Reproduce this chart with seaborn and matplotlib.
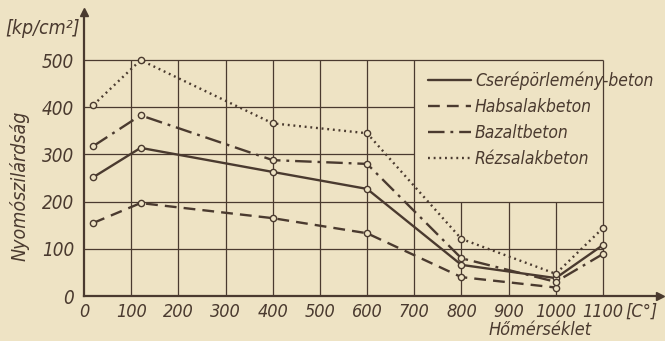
import numpy as np
import pandas as pd
import matplotlib
matplotlib.use('Agg')
import matplotlib.pyplot as plt
import seaborn as sns
from matplotlib.lines import Line2D

# adatok (leolvasva az ábráról)
homerseklet = [20, 120, 400, 600, 800, 1000, 1100]
cserep = [252, 314, 263, 227, 66, 38, 108]
habsalak = [155, 197, 165, 133, 40, 18]
bazalt = [318, 383, 288, 280, 80, 30, 89]
rezsalak = [405, 500, 366, 345, 121, 47, 144]

nevek = ['Cserépörlemény-beton', 'Habsalakbeton', 'Bazaltbeton', 'Rézsalakbeton']
x_ticks = [0, 100, 200, 300, 400, 500, 600, 700, 800, 900, 1000, 1100]
y_ticks = [0, 100, 200, 300, 400, 500]

sorok = []
for nev, ertekek in zip(nevek, [cserep, habsalak, bazalt, rezsalak]):
    for t, v in zip(homerseklet, ertekek):
        sorok.append({'Hőmérséklet': t, 'Nyomószilárdság': v, 'anyag': nev})
df = pd.DataFrame(sorok)

# stílus
papir = '#eee3c4'
tinta = '#4a3a2f'
sns.set_style('white')
plt.rcParams['font.family'] = ['DejaVu Sans']
plt.rcParams['font.stretch'] = 'condensed'
plt.rcParams['font.style'] = 'italic'

fig = plt.figure(figsize=(6.65, 3.41), dpi=100, facecolor=papir)
ax = fig.add_axes([84 / 665, 1 - 296 / 341, 576 / 665, 284 / 341])
ax.set_facecolor(papir)

vonalak = {
    'Cserépörlemény-beton': '',
    'Habsalakbeton': (5, 3),
    'Bazaltbeton': (7, 2.5, 1.2, 2.5),
    'Rézsalakbeton': (0.8, 1.6),
}

# rács (a jelmagyarázat mögött üresen hagyva)
racs = dict(color=tinta, lw=0.9, zorder=1)
ax.hlines([100, 200, 500], 0, 1100, **racs)
ax.hlines([300, 400], 0, 700, **racs)
ax.vlines([100, 200, 300, 400, 500, 600, 700, 1100], 0, 500, **racs)
ax.vlines([800, 900, 1000], 0, 200, **racs)

sns.lineplot(data=df, x='Hőmérséklet', y='Nyomószilárdság', style='anyag',
             dashes=vonalak, markers={n: 'o' for n in nevek}, color=tinta,
             linewidth=1.7, markersize=4.5, markerfacecolor=papir,
             markeredgecolor=tinta, markeredgewidth=1.0, legend=False,
             ax=ax, zorder=3)

ax.set_xlim(0, 1221)
ax.set_ylim(0, 602)
ax.set_xticks(x_ticks)
ax.set_yticks(y_ticks)
ax.tick_params(axis='y', length=0, labelsize=13.5, colors=tinta, pad=7)
ax.tick_params(axis='x', length=0, labelsize=13, colors=tinta, pad=5)
for lab in ax.get_xticklabels() + ax.get_yticklabels():
    lab.set_fontstyle('italic')
    lab.set_fontstretch('condensed')
ax.set_xlabel('')
ax.set_ylabel('')

for s in ['top', 'right']:
    ax.spines[s].set_visible(False)
for s in ['left', 'bottom']:
    ax.spines[s].set_color(tinta)
    ax.spines[s].set_linewidth(1.6)
ax.plot(1, 0, '>', color=tinta, ms=6, transform=ax.transAxes, clip_on=False)
ax.plot(0, 1, '^', color=tinta, ms=6, transform=ax.transAxes, clip_on=False)

kw = dict(color=tinta, style='italic', stretch='condensed')
fig.text(5 / 665, 1 - 28 / 341, '[kp/cm²]', fontsize=14, va='center', ha='left', **kw)
fig.text(20 / 665, 1 - 186 / 341, 'Nyomószilárdság', fontsize=14, rotation=90,
         va='center', ha='center', **kw)
fig.text(540 / 665, 2 / 341, 'Hőmérséklet', fontsize=13, va='bottom',
         ha='center', **kw)
fig.text(641 / 665, 1 - 312 / 341, '[C°]', fontsize=13, va='center', ha='center', **kw)

kezelok = [Line2D([], [], color=tinta, lw=1.7,
                  dashes=(vonalak[n] if vonalak[n] else (None, None)))
           for n in nevek]
leg = ax.legend(kezelok, nevek, loc='upper left',
                bbox_to_anchor=(428 / 665, 1 - 72 / 341),
                bbox_transform=fig.transFigure, frameon=False,
                fontsize=12.5, handlelength=2.5, handletextpad=0.2,
                labelspacing=0.45, borderaxespad=0, borderpad=0)
for t in leg.get_texts():
    t.set_color(tinta)
    t.set_fontstyle('italic')
    t.set_fontstretch('condensed')

fig.savefig('out.png', dpi=100, facecolor=papir)
